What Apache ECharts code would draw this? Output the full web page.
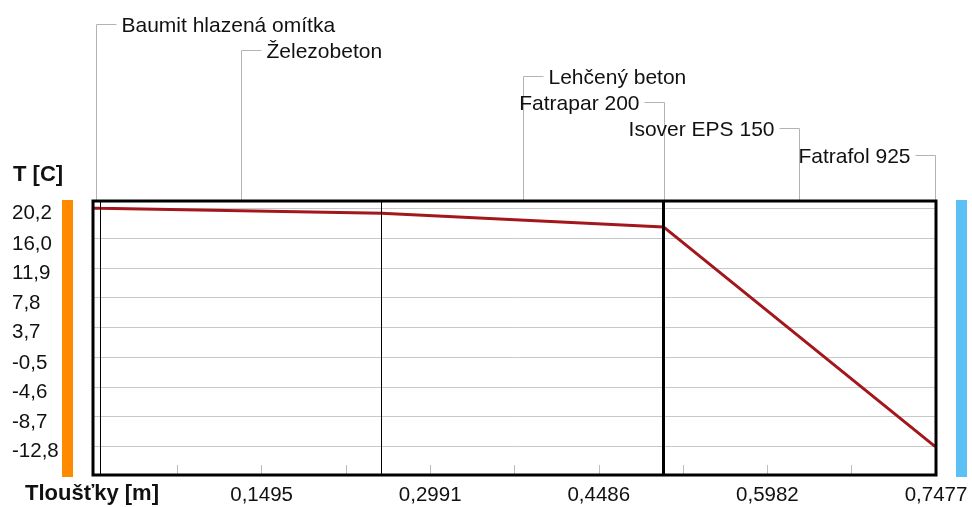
<!DOCTYPE html>
<html>
<head>
<meta charset="utf-8">
<script src="https://cdn.jsdelivr.net/npm/echarts@6/dist/echarts.min.js"></script>
<style>
  html, body { margin: 0; padding: 0; background: #fff; }
  #chart { width: 972px; height: 507px; }
</style>
</head>
<body>
<div id="chart"></div>
<script>
// Wall composition, interior side first
const layerNames = ['Baumit hlazená omítka', 'Železobeton', 'Lehčený beton', 'Fatrapar 200', 'Isover EPS 150', 'Fatrafol 925'];
const layerThickness = [0.006, 0.25, 0.25, 0.0002, 0.24, 0.0015]; // m

// Temperature at each layer interface [°C], interior surface first
const interfaceTemps = [20.2, 20.18, 19.5, 17.6, 17.59, -12.76, -12.8];

// Axis ticks
const xTickStep = 0.07477;
const xMax = 0.7477;
const yTickLabels = ['20,2', '16,0', '11,9', '7,8', '3,7', '-0,5', '-4,6', '-8,7', '-12,8'];
const yMin = -16.8;
const yMax = 21.2;

const yTickValues = yTickLabels.map(s => parseFloat(s.replace(',', '.')));

// Interface positions from cumulative thickness
const interfaces = [0];
layerThickness.forEach(t => interfaces.push(+(interfaces[interfaces.length - 1] + t).toFixed(6)));

const profile = interfaces.map((x, i) => [x, interfaceTemps[i]]);

const FONT = '"Liberation Sans", Arial, sans-serif';

// Inner layer boundaries; thin membranes merge into a heavy line.
// Boundaries lying on the plot frame are left to the frame itself.
const boundaryLines = [];
for (let i = 1; i < interfaces.length - 1; i++) {
  const x = interfaces[i];
  if (x < 0.002 || xMax - x < 0.002) continue;
  const nearMembrane = layerThickness[i - 1] < 0.002 || layerThickness[i] < 0.002;
  boundaryLines.push({
    xAxis: x,
    lineStyle: { color: '#000', width: nearMembrane ? 3 : 1, type: 'solid' }
  });
}

const chart = echarts.init(document.getElementById('chart'), null, { renderer: 'canvas' });

chart.setOption({
  animation: false,
  backgroundColor: '#fff',
  grid: { left: 93, right: 36, top: 201, bottom: 32, containLabel: false },
  xAxis: {
    type: 'value',
    min: 0,
    max: xMax,
    interval: xTickStep,
    axisLine: { show: false, onZero: false },
    axisTick: { show: true, inside: true, length: 10, lineStyle: { color: '#bdbdbd', width: 1 } },
    splitLine: { show: false },
    axisLabel: {
      margin: 10,
      color: '#111',
      fontFamily: FONT,
      fontSize: 20.5,
      showMinLabel: true,
      showMaxLabel: true,
      formatter: v => {
        const k = Math.round(v / xTickStep);
        if (k === 0 || k % 2 !== 0) return '';
        return v.toFixed(4).replace('.', ',');
      }
    }
  },
  yAxis: {
    type: 'value',
    min: yMin,
    max: yMax,
    axisLine: { show: false },
    axisTick: { show: false, customValues: yTickValues },
    splitLine: { show: true, lineStyle: { color: '#c8c8c8', width: 1 } },
    axisLabel: {
      customValues: yTickValues,
      align: 'left',
      verticalAlign: 'top',
      lineHeight: 11,
      margin: 81,
      color: '#111',
      fontFamily: FONT,
      fontSize: 20.5,
      formatter: v => {
        const i = yTickValues.indexOf(v);
        return i >= 0 ? yTickLabels[i] : '';
      }
    }
  },
  series: [{
    type: 'line',
    data: profile,
    showSymbol: false,
    symbol: 'none',
    lineStyle: { color: '#a3161c', width: 3 },
    z: 3,
    markLine: {
      silent: true,
      precision: 6,
      symbol: ['none', 'none'],
      label: { show: false },
      data: boundaryLines,
      z: 4
    }
  }]
});

// Decorations placed from the axes' own coordinates
const [gx0, gy0] = chart.convertToPixel({ gridIndex: 0 }, [0, yMax]);
const [gx1, gy1] = chart.convertToPixel({ gridIndex: 0 }, [xMax, yMin]);

const graphics = [];

// Plot frame
graphics.push({
  type: 'rect',
  shape: { x: gx0, y: gy0, width: gx1 - gx0, height: gy1 - gy0 },
  style: { fill: null, stroke: '#000', lineWidth: 3 },
  z: 10
});

// Interior (warm) and exterior (cold) side bars
graphics.push({
  type: 'rect',
  shape: { x: gx0 - 31, y: gy0 - 1, width: 11, height: gy1 - gy0 + 3 },
  style: { fill: '#ff8a00' },
  z: 5
});
graphics.push({
  type: 'rect',
  shape: { x: gx1 + 20, y: gy0 - 1, width: 11, height: gy1 - gy0 + 3 },
  style: { fill: '#5cc0f5' },
  z: 5
});

// Axis titles
graphics.push({
  type: 'text', x: 13, y: 175,
  style: { text: 'T [C]', font: 'bold 22px ' + FONT, fill: '#111', textAlign: 'left', textVerticalAlign: 'middle' },
  z: 5
});
graphics.push({
  type: 'text', x: 25, y: 494,
  style: { text: 'Tloušťky [m]', font: 'bold 22px ' + FONT, fill: '#111', textAlign: 'left', textVerticalAlign: 'middle' },
  z: 5
});

// Layer name callouts with leader lines
const leaderTop = 23.5;
const leaderStep = 26.2;
layerNames.forEach((name, i) => {
  const center = interfaces[i] + layerThickness[i] / 2;
  const px = Math.round(chart.convertToPixel({ xAxisIndex: 0 }, center)) + 0.5;
  const ly = Math.round(leaderTop + i * leaderStep) + 0.5;
  const toRight = i < layerNames.length / 2;
  const dir = toRight ? 1 : -1;
  graphics.push({
    type: 'polyline',
    shape: { points: [[px, gy0], [px, ly], [px + dir * 20, ly]] },
    style: { stroke: '#b4b4b4', lineWidth: 1, fill: null },
    z: 1
  });
  graphics.push({
    type: 'text',
    x: px + dir * 25,
    y: ly + 2,
    style: {
      text: name,
      font: '21px ' + FONT,
      fill: '#111',
      textAlign: toRight ? 'left' : 'right',
      textVerticalAlign: 'middle'
    },
    z: 2
  });
});

chart.setOption({ graphic: { elements: graphics } });
</script>
</body>
</html>
